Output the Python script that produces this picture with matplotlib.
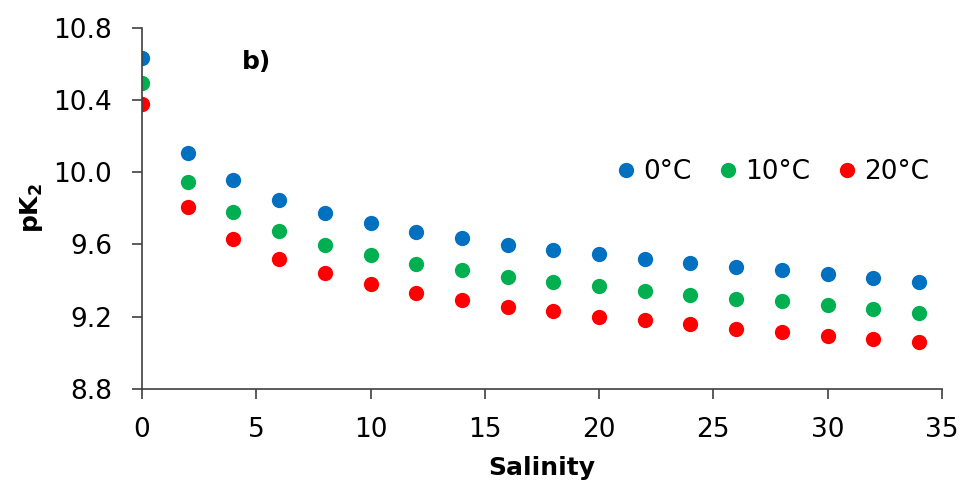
import matplotlib.pyplot as plt
import numpy as np

# salinity values and pK2 at three temperatures
salinity = [0, 2, 4, 6, 8, 10, 12, 14, 16, 18, 20, 22, 24, 26, 28, 30, 32, 34]
pk2_0 = [10.634, 10.108, 9.955, 9.846, 9.776, 9.717, 9.669, 9.636, 9.598, 9.569,
         9.549, 9.519, 9.499, 9.477, 9.458, 9.436, 9.416, 9.394]
pk2_10 = [10.492, 9.947, 9.781, 9.676, 9.598, 9.541, 9.492, 9.457, 9.421, 9.394,
          9.371, 9.342, 9.322, 9.299, 9.285, 9.266, 9.242, 9.222]
pk2_20 = [10.378, 9.809, 9.630, 9.519, 9.442, 9.379, 9.329, 9.292, 9.255, 9.230,
          9.200, 9.182, 9.159, 9.135, 9.113, 9.095, 9.076, 9.060]
labels = ["0°C", "10°C", "20°C"]
colors = ["#0070C0", "#00B050", "#FF0000"]

fig = plt.figure(figsize=(9.63, 4.92), dpi=100)
ax = fig.add_axes([0.1475, 0.2093, 0.8305, 0.7344])

for ys, lab, c in zip([pk2_0, pk2_10, pk2_20], labels, colors):
    ax.plot(salinity, ys, 'o', color=c, markersize=11, markeredgewidth=0, label=lab)

ax.set_xlim(0, 35)
ax.set_ylim(8.8, 10.8)
ax.set_xticks(np.arange(0, 36, 5))
ax.set_yticks(np.arange(8.8, 10.81, 0.4))
ax.yaxis.set_major_formatter(plt.FormatStrFormatter('%.1f'))

for s in ['top', 'right']:
    ax.spines[s].set_visible(False)
for s in ['left', 'bottom']:
    ax.spines[s].set_color('#404040')
    ax.spines[s].set_linewidth(1.2)
ax.tick_params(direction='out', length=7.5, width=1.2, color='#404040',
               labelsize=19)
ax.tick_params(axis='y', pad=14)
ax.tick_params(axis='x', pad=13)

ax.set_xlabel('Salinity', fontsize=18, fontweight='bold', labelpad=9)
ax.set_ylabel('pK$_\\mathbf{2}$', fontsize=18, fontweight='bold', labelpad=6)

ax.text(5, 10.61, 'b)', fontsize=18, fontweight='bold', ha='center', va='center')

ax.legend(loc='center', bbox_to_anchor=(0.79, 0.60), ncol=3, frameon=False,
          fontsize=19, handlelength=0.6, handletextpad=0.35, columnspacing=1.1,
          borderpad=0)

fig.savefig('out.png', dpi=100)
